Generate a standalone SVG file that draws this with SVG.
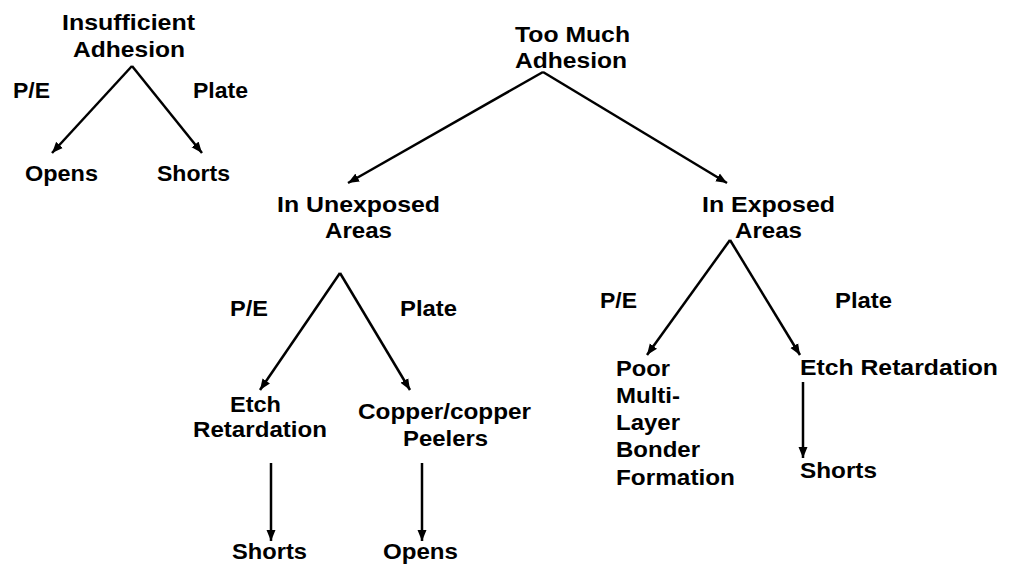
<svg xmlns="http://www.w3.org/2000/svg" width="1015" height="564" viewBox="0 0 1015 564">
<style>
text{font-family:"Liberation Sans",Arial,sans-serif;font-weight:bold;font-size:22px;fill:#000}
.c line{stroke:#000;stroke-width:2.5;marker-end:url(#ah)}
</style>
<defs>
<marker id="ah" markerUnits="userSpaceOnUse" markerWidth="12" markerHeight="10" refX="11" refY="5" orient="auto"><path d="M0,0.5 L11,5 L0,9.5 z" fill="#000"/></marker>
</defs>
<rect width="1015" height="564" fill="#fff"/>
<g class="c" id="connectors">
<line x1="132" y1="66" x2="52" y2="153"/>
<line x1="132" y1="66" x2="202" y2="153"/>
<line x1="543" y1="72" x2="348" y2="183"/>
<line x1="543" y1="72" x2="727" y2="183"/>
<line x1="340" y1="273" x2="260" y2="390"/>
<line x1="340" y1="273" x2="410" y2="390"/>
<line x1="271" y1="463" x2="271" y2="541"/>
<line x1="422" y1="463" x2="422" y2="541"/>
<line x1="730" y1="240" x2="647" y2="355"/>
<line x1="730" y1="240" x2="800" y2="355"/>
<line x1="803" y1="382" x2="803" y2="458"/>
</g>
<g id="insufficient"><text x="62" y="30" textLength="133" lengthAdjust="spacingAndGlyphs">Insufficient</text><text x="73" y="57" textLength="112" lengthAdjust="spacingAndGlyphs">Adhesion</text></g>
<g id="lbl-pe1"><text x="13" y="98" textLength="37" lengthAdjust="spacingAndGlyphs">P/E</text></g>
<g id="lbl-plate1"><text x="193" y="98" textLength="55" lengthAdjust="spacingAndGlyphs">Plate</text></g>
<g id="opens1"><text x="25" y="181" textLength="73" lengthAdjust="spacingAndGlyphs">Opens</text></g>
<g id="shorts1"><text x="157" y="181" textLength="73" lengthAdjust="spacingAndGlyphs">Shorts</text></g>
<g id="toomuch"><text x="515" y="42" textLength="115" lengthAdjust="spacingAndGlyphs">Too Much</text><text x="515" y="68" textLength="112" lengthAdjust="spacingAndGlyphs">Adhesion</text></g>
<g id="unexposed"><text x="277" y="212" textLength="163" lengthAdjust="spacingAndGlyphs">In Unexposed</text><text x="325" y="238" textLength="67" lengthAdjust="spacingAndGlyphs">Areas</text></g>
<g id="exposed"><text x="702" y="212" textLength="133" lengthAdjust="spacingAndGlyphs">In Exposed</text><text x="735" y="238" textLength="67" lengthAdjust="spacingAndGlyphs">Areas</text></g>
<g id="lbl-pe2"><text x="230" y="316" textLength="38" lengthAdjust="spacingAndGlyphs">P/E</text></g>
<g id="lbl-plate2"><text x="400" y="316" textLength="57" lengthAdjust="spacingAndGlyphs">Plate</text></g>
<g id="etch1"><text x="230" y="412" textLength="51" lengthAdjust="spacingAndGlyphs">Etch</text><text x="193" y="437" textLength="134" lengthAdjust="spacingAndGlyphs">Retardation</text></g>
<g id="copper"><text x="358" y="419" textLength="173" lengthAdjust="spacingAndGlyphs">Copper/copper</text><text x="403" y="446" textLength="85" lengthAdjust="spacingAndGlyphs">Peelers</text></g>
<g id="shorts2"><text x="232" y="559" textLength="75" lengthAdjust="spacingAndGlyphs">Shorts</text></g>
<g id="opens2"><text x="383" y="559" textLength="75" lengthAdjust="spacingAndGlyphs">Opens</text></g>
<g id="lbl-pe3"><text x="600" y="308" textLength="37" lengthAdjust="spacingAndGlyphs">P/E</text></g>
<g id="lbl-plate3"><text x="835" y="308" textLength="57" lengthAdjust="spacingAndGlyphs">Plate</text></g>
<g id="poor"><text x="616" y="376" textLength="54" lengthAdjust="spacingAndGlyphs">Poor</text><text x="616" y="403" textLength="64" lengthAdjust="spacingAndGlyphs">Multi-</text><text x="616" y="430" textLength="64" lengthAdjust="spacingAndGlyphs">Layer</text><text x="616" y="457" textLength="84" lengthAdjust="spacingAndGlyphs">Bonder</text><text x="616" y="485" textLength="119" lengthAdjust="spacingAndGlyphs">Formation</text></g>
<g id="etch2"><text x="800" y="375" textLength="198" lengthAdjust="spacingAndGlyphs">Etch Retardation</text></g>
<g id="shorts3"><text x="800" y="478" textLength="77" lengthAdjust="spacingAndGlyphs">Shorts</text></g>
</svg>
